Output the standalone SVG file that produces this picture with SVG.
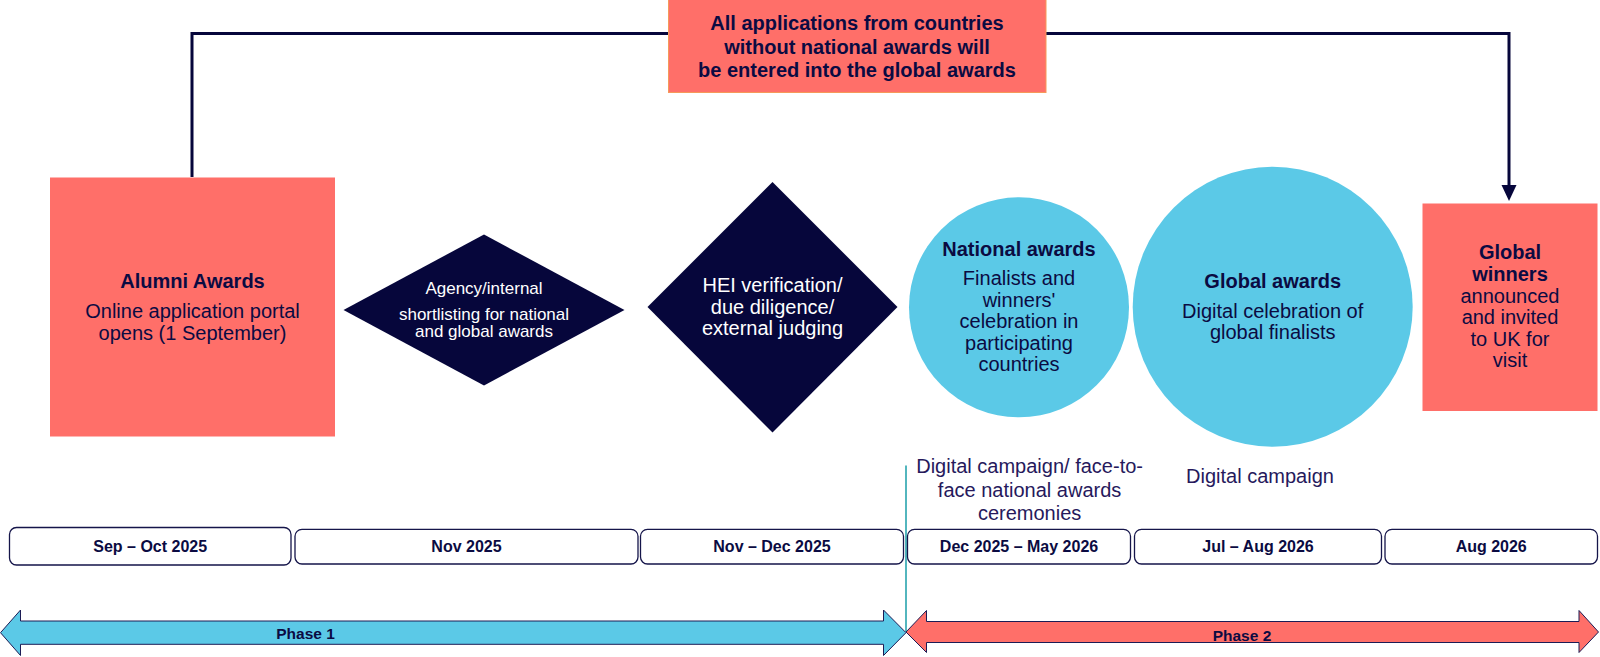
<svg xmlns="http://www.w3.org/2000/svg" width="1600" height="657" viewBox="0 0 1600 657">
  <defs>
    <style>
      text { font-family: "Liberation Sans", Arial, sans-serif; text-anchor: middle; }
      .t { font-size: 20px; fill: #0b0b42; }
      .b { font-weight: bold; }
      .w { fill: #ffffff; }
      .s17 { font-size: 17px; }
      .lbl { font-size: 16px; font-weight: bold; fill: #0b0b42; }
      .camp { font-size: 20px; fill: #26195c; }
      .salmon { fill: #ff6f69; }
      .navy { fill: #06063b; }
      .sky { fill: #5bc9e7; }
      .period { fill: #ffffff; stroke: #15154a; stroke-width: 1.3; }
      .phase { stroke: #1c1c55; stroke-width: 1; }
      .link { fill: none; stroke: #06063b; stroke-width: 3; }
    </style>
    <marker id="arrowhead" markerUnits="userSpaceOnUse" viewBox="0 0 16 16" markerWidth="16" markerHeight="16" refX="5" refY="8" orient="auto">
      <path d="M0,0.5 L16,8 L0,15.5 Z" fill="#06063b"/>
    </marker>
  </defs>

  <rect width="1600" height="657" fill="#ffffff"/>

  <!-- connectors -->
  <g id="connectors">
    <path class="link" d="M192,177 V33.5 H1509 V190" marker-end="url(#arrowhead)"/>
    <line x1="906" y1="465.5" x2="906" y2="632" stroke="#1a9ea8" stroke-width="1.5"/>
  </g>

  <!-- note about countries without national awards -->
  <g id="note">
    <rect x="668.5" y="-1" width="377.5" height="93.5" class="salmon" stroke="#f59a5a" stroke-width="1"/>
    <text class="t b" x="857" y="30">All applications from countries</text>
    <text class="t b" x="857" y="53.5">without national awards will</text>
    <text class="t b" x="857" y="77">be entered into the global awards</text>
  </g>

  <g id="alumni-awards">
    <rect x="50" y="177.5" width="285" height="259" class="salmon"/>
    <text class="t b" x="192.5" y="287.5">Alumni Awards</text>
    <text class="t" x="192.5" y="318.3">Online application portal</text>
    <text class="t" x="192.5" y="340">opens (1 September)</text>
  </g>

  <g id="shortlisting">
    <polygon points="343.5,310 484,234.5 624.5,310 484,385.5" class="navy"/>
    <text class="t w s17" x="484" y="294">Agency/internal</text>
    <text class="t w s17" x="484" y="320">shortlisting for national</text>
    <text class="t w s17" x="484" y="337.3">and global awards</text>
  </g>

  <g id="verification">
    <polygon points="647.5,307 772.5,182 897.5,307 772.5,432.5" class="navy"/>
    <text class="t w" x="772.5" y="292">HEI verification/</text>
    <text class="t w" x="772.5" y="313.5">due diligence/</text>
    <text class="t w" x="772.5" y="335">external judging</text>
  </g>

  <g id="national-awards">
    <circle cx="1019" cy="307.3" r="110" class="sky"/>
    <text class="t b" x="1019" y="256">National awards</text>
    <text class="t" x="1019" y="285">Finalists and</text>
    <text class="t" x="1019" y="306.5">winners'</text>
    <text class="t" x="1019" y="328">celebration in</text>
    <text class="t" x="1019" y="349.5">participating</text>
    <text class="t" x="1019" y="371">countries</text>
  </g>

  <g id="global-awards">
    <circle cx="1272.7" cy="306.7" r="140" class="sky"/>
    <text class="t b" x="1272.7" y="287.5">Global awards</text>
    <text class="t" x="1272.7" y="317.7">Digital celebration of</text>
    <text class="t" x="1272.7" y="338.5">global finalists</text>
  </g>

  <g id="global-winners">
    <rect x="1422.5" y="203.5" width="175" height="207.5" class="salmon"/>
    <text class="t b" x="1510" y="259.3">Global</text>
    <text class="t b" x="1510" y="280.7">winners</text>
    <text class="t" x="1510" y="303">announced</text>
    <text class="t" x="1510" y="324.3">and invited</text>
    <text class="t" x="1510" y="345.7">to UK for</text>
    <text class="t" x="1510" y="367.3">visit</text>
  </g>

  <!-- campaign notes above the timeline -->
  <g id="campaign-notes">
    <text class="camp" x="1029.6" y="472.7">Digital campaign/ face-to-</text>
    <text class="camp" x="1029.6" y="496.5">face national awards</text>
    <text class="camp" x="1029.6" y="520.3">ceremonies</text>
    <text class="camp" x="1260" y="483.3">Digital campaign</text>
  </g>

  <!-- timeline periods -->
  <g id="period-1">
    <rect x="9.5" y="527.5" width="281.5" height="37.5" rx="7" class="period"/>
    <text class="lbl" x="150.2" y="551.7">Sep – Oct 2025</text>
  </g>
  <g id="period-2">
    <rect x="295" y="529.3" width="343" height="34.7" rx="7" class="period"/>
    <text class="lbl" x="466.5" y="552">Nov 2025</text>
  </g>
  <g id="period-3">
    <rect x="640.5" y="529.3" width="263" height="34.7" rx="7" class="period"/>
    <text class="lbl" x="772" y="552">Nov – Dec 2025</text>
  </g>
  <g id="period-4">
    <rect x="907.5" y="529.3" width="223" height="34.7" rx="7" class="period"/>
    <text class="lbl" x="1019" y="552">Dec 2025 – May 2026</text>
  </g>
  <g id="period-5">
    <rect x="1134.5" y="529.3" width="247" height="34.7" rx="7" class="period"/>
    <text class="lbl" x="1258" y="552">Jul – Aug 2026</text>
  </g>
  <g id="period-6">
    <rect x="1385" y="529.3" width="212.5" height="34.7" rx="7" class="period"/>
    <text class="lbl" x="1491.2" y="552">Aug 2026</text>
  </g>

  <!-- phase arrows -->
  <g id="phase-1">
    <path class="sky phase" d="M0.5,632.7 L20.5,610 L20.5,621 L883.5,621 L883.5,610 L906,632.7 L883.5,655.5 L883.5,644.3 L20.5,644.3 L20.5,655.5 Z"/>
    <text class="lbl" style="font-size:15.5px" x="305.6" y="639.3">Phase 1</text>
  </g>
  <g id="phase-2">
    <path class="salmon phase" d="M906,632 L926.5,610.5 L926.5,621.5 L1579,621.5 L1579,610.5 L1598.5,632 L1579,652.5 L1579,642.5 L926.5,642.5 L926.5,652.5 Z"/>
    <text class="lbl" style="font-size:15.5px" x="1242" y="641">Phase 2</text>
  </g>
</svg>
